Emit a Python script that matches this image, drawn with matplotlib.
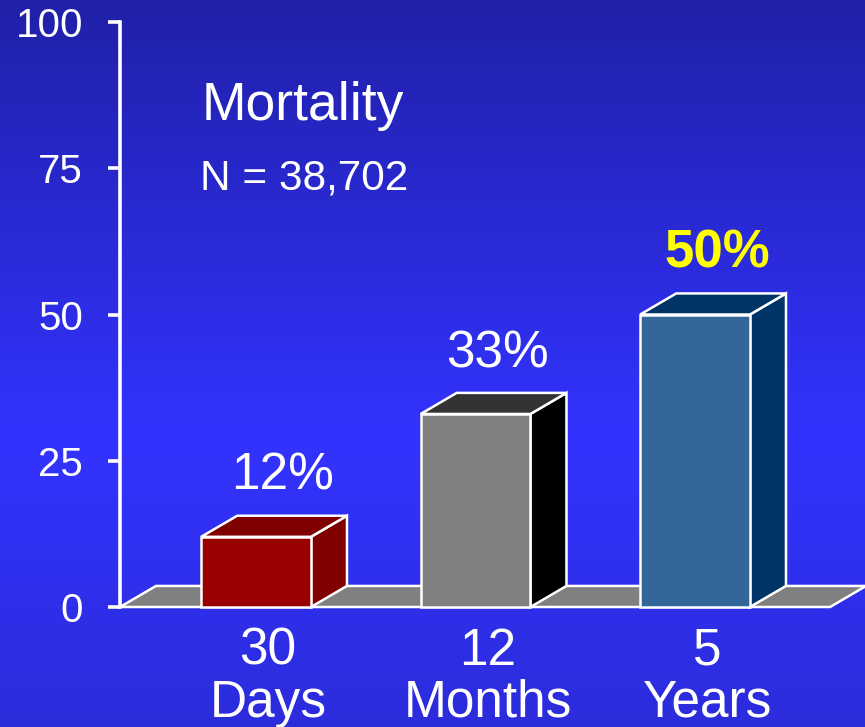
import matplotlib
matplotlib.use("Agg")
import matplotlib.pyplot as plt
from matplotlib.patches import Polygon
import numpy as np

plt.rcParams["font.family"] = ["Liberation Sans", "DejaVu Sans"]

# Data
period_numbers = ["30", "12", "5"]
period_units = ["Days", "Months", "Years"]
mortality_pct = [12, 33, 50]
y_ticks = [0, 25, 50, 75, 100]
title_text = "Mortality"
subtitle_text = "N = 38,702"

# Styling
front_colors = ["#990000", "#808080", "#336699"]
top_colors = ["#800000", "#333333", "#003366"]
side_colors = ["#800000", "#000000", "#003366"]
value_colors = ["white", "white", "#ffff00"]
value_weights = ["normal", "normal", "bold"]
value_sizes = [37, 37, 38]
value_offsets = [0.12, 0.10, 0.10]

W, H = 865, 727
fig = plt.figure(figsize=(W / 100, H / 100), dpi=100)

# Vertical blue gradient backdrop
bg = fig.add_axes([0, 0, 1, 1], zorder=0)
t = np.linspace(0, 1, 400)
stops = [0.0, 0.6, 1.0]
rgb = np.stack([
    np.interp(t, stops, [0x20, 0x33, 0x2c]),
    np.interp(t, stops, [0x20, 0x33, 0x2c]),
    np.interp(t, stops, [0xa8, 0xff, 0xdc]),
], axis=-1)[:, None, :] / 255.0
bg.imshow(rgb, aspect="auto", extent=[0, 1, 0, 1], origin="upper")
bg.set_xlim(0, 1)
bg.set_ylim(0, 1)
bg.axis("off")

# Main plotting axes
ax = fig.add_axes([120 / W, 120 / H, 1 - 120 / W, 585 / H], zorder=1)
ax.patch.set_alpha(0)
x_left, x_right = -0.62, 2.774
ax.set_xlim(x_left, x_right)
ax.set_ylim(0, 100)

for side in ["top", "right", "bottom"]:
    ax.spines[side].set_visible(False)
ax.spines["left"].set_color("white")
ax.spines["left"].set_linewidth(2.6)
ax.spines["left"].set_zorder(6)
ax.set_xticks([])
ax.set_yticks(y_ticks)
ax.tick_params(axis="y", colors="white", length=8.6, width=2.6,
               pad=18, labelsize=29, direction="out")

bar_width = 0.5
depth_x = 0.164
depth_y = 3.6
edge_kw = dict(edgecolor="white", linewidth=1.8, joinstyle="miter", clip_on=False)

# Floor slab
floor_end = 2.615
floor = Polygon([(x_left, 0), (floor_end, 0),
                 (floor_end + depth_x, depth_y), (x_left + depth_x, depth_y)],
                closed=True, facecolor="#808080", zorder=2, **edge_kw)
ax.add_patch(floor)

# 3D bars
for i, v in enumerate(mortality_pct):
    xl = i - bar_width / 2
    xr = i + bar_width / 2
    side = Polygon([(xr, 0), (xr + depth_x, depth_y), (xr + depth_x, v + depth_y), (xr, v)],
                   closed=True, facecolor=side_colors[i], zorder=3, **edge_kw)
    top = Polygon([(xl, v), (xr, v), (xr + depth_x, v + depth_y), (xl + depth_x, v + depth_y)],
                  closed=True, facecolor=top_colors[i], zorder=3, **edge_kw)
    front = Polygon([(xl, 0), (xr, 0), (xr, v), (xl, v)],
                    closed=True, facecolor=front_colors[i], zorder=4, **edge_kw)
    for p in (side, top, front):
        ax.add_patch(p)

    ax.text(i + value_offsets[i], v + 8, f"{v}%", ha="center", va="baseline",
            color=value_colors[i], fontsize=value_sizes[i],
            fontweight=value_weights[i], zorder=5)

    ax.text(i + 0.055, -9.9, period_numbers[i], ha="center", va="baseline",
            color="white", fontsize=37, clip_on=False)
    ax.text(i + 0.055, -18.8, period_units[i], ha="center", va="baseline",
            color="white", fontsize=37, clip_on=False)

ax.text(-0.246, 83.2, title_text, ha="left", va="baseline",
        color="white", fontsize=38.5)
ax.text(-0.255, 71.3, subtitle_text, ha="left", va="baseline",
        color="white", fontsize=30.5)

fig.savefig("out.png", dpi=100)
